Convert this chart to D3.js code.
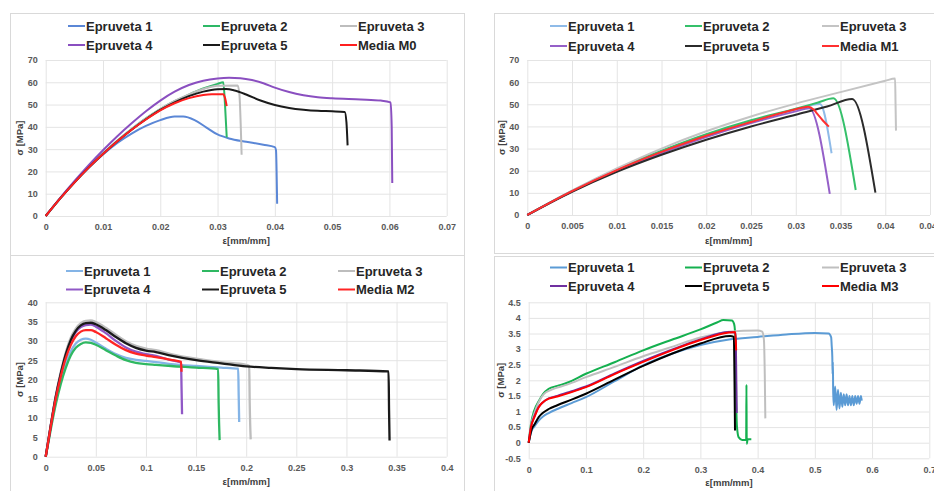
<!DOCTYPE html>
<html>
<head>
<meta charset="utf-8">
<script src="https://cdn.jsdelivr.net/npm/d3@7"></script>
<style>
  body { margin: 0; background: #fff; }
  svg { display: block; font-family: "Liberation Sans", Arial, sans-serif; }
</style>
</head>
<body>
<div id="chart"></div>
<script>
// ---------- M0 ----------
const m0Names = ["Epruveta 1", "Epruveta 2", "Epruveta 3", "Epruveta 4", "Epruveta 5", "Media M0"];
const m0E1 = [[0,0],[0.0025,7.8],[0.005,15],[0.0075,21.6],[0.01,27.6],[0.0125,32.8],[0.015,37],[0.0175,40.4],[0.02,43],[0.0225,44.6],[0.024,44.6],[0.026,43],[0.028,39.8],[0.03,36.6],[0.032,34.8],[0.035,33.3],[0.038,32],[0.04,30.9],[0.0402,29.5],[0.0404,5.5]];
const m0E2 = [[0,0],[0.0025,7.8],[0.005,15.1],[0.0075,21.8],[0.01,28],[0.0125,33.8],[0.015,39],[0.0175,43.8],[0.02,48],[0.0225,51.5],[0.025,54.5],[0.0275,57.2],[0.03,59.3],[0.031,60],[0.0313,50],[0.0316,35.3]];
const m0E3 = [[0,0],[0.0025,7.8],[0.005,15.1],[0.0075,21.8],[0.01,28],[0.0125,33.8],[0.015,39],[0.0175,43.8],[0.02,48],[0.0225,51.6],[0.025,54.6],[0.0275,57],[0.03,58.5],[0.0335,58.6],[0.0338,55],[0.0342,27.5]];
const m0E4 = [[0,0],[0.0025,8],[0.005,15.6],[0.0075,22.8],[0.01,29.5],[0.0125,35.8],[0.015,41.6],[0.0175,47],[0.02,51.8],[0.0225,55.8],[0.025,58.8],[0.0275,60.7],[0.03,61.7],[0.032,62],[0.034,61.8],[0.036,61],[0.038,59.6],[0.04,57.6],[0.0425,55.6],[0.045,54.2],[0.0475,53.3],[0.05,52.8],[0.055,52.3],[0.0585,51.8],[0.0602,51],[0.0604,40],[0.0605,14.8]];
const m0E5 = [[0,0],[0.0025,7.8],[0.005,15],[0.0075,21.7],[0.01,27.8],[0.0125,33.5],[0.015,38.7],[0.0175,43.4],[0.02,47.6],[0.0225,51],[0.025,53.8],[0.0275,55.8],[0.03,56.9],[0.0315,57],[0.033,56.3],[0.035,54.5],[0.0375,51.8],[0.04,49.8],[0.0425,48.5],[0.045,47.7],[0.0475,47.2],[0.05,47],[0.0522,46.7],[0.0525,42],[0.0527,31.7]];
const m0Mean = [[0,0],[0.0025,7.8],[0.005,15],[0.0075,21.7],[0.01,27.8],[0.0125,33.5],[0.015,38.7],[0.0175,43.3],[0.02,47.4],[0.0225,50.6],[0.025,52.9],[0.0275,54.3],[0.029,54.6],[0.031,54.6],[0.0313,53],[0.0316,49.3]];
const m0XTicks = [0, 0.01, 0.02, 0.03, 0.04, 0.05, 0.06, 0.07];
const m0XLabels = ["0", "0.01", "0.02", "0.03", "0.04", "0.05", "0.06", "0.07"];
const m0YTicks = [0, 10, 20, 30, 40, 50, 60, 70];
const m0YLabels = ["0", "10", "20", "30", "40", "50", "60", "70"];

// ---------- M1 ----------
const m1Names = ["Epruveta 1", "Epruveta 2", "Epruveta 3", "Epruveta 4", "Epruveta 5", "Media M1"];
const m1E1 = [[0,0],[0.005,10.9],[0.01,20.5],[0.015,28.8],[0.02,36],[0.025,42.3],[0.03,47.6],[0.0327,50.1],[0.034,27.9]];
const m1E2 = [[0,0],[0.005,10.9],[0.01,20.6],[0.015,29],[0.02,36.5],[0.025,42.8],[0.03,48],[0.0325,50.8],[0.0342,52.7],[0.0367,11.3]];
const m1E3 = [[0,0],[0.005,11],[0.01,21],[0.015,30],[0.02,37.8],[0.025,44.5],[0.03,50.3],[0.035,55.5],[0.04,60.6],[0.0411,61.7],[0.04115,50],[0.0412,38.1]];
const m1E4 = [[0,0],[0.005,10.7],[0.01,20],[0.015,28],[0.02,35.2],[0.025,41.5],[0.03,46.8],[0.0315,48.2],[0.0338,9.5]];
const m1E5 = [[0,0],[0.005,10.5],[0.01,19.5],[0.015,27.2],[0.02,34],[0.025,40],[0.03,45.3],[0.0335,49],[0.0363,52.4],[0.0389,10.1]];
const m1Mean = [[0,0],[0.005,10.8],[0.01,20.3],[0.015,28.5],[0.02,35.8],[0.025,42],[0.03,47.8],[0.0314,48.9],[0.032,47.6],[0.0325,45.2],[0.033,42.8],[0.0337,39.9]];
const m1XTicks = [0, 0.005, 0.01, 0.015, 0.02, 0.025, 0.03, 0.035, 0.04, 0.045];
const m1XLabels = ["0", "0.005", "0.01", "0.015", "0.02", "0.025", "0.03", "0.035", "0.04", "0.045"];
const m1YTicks = [0, 10, 20, 30, 40, 50, 60, 70];
const m1YLabels = ["0", "10", "20", "30", "40", "50", "60", "70"];

// ---------- M2 ----------
const m2Names = ["Epruveta 1", "Epruveta 2", "Epruveta 3", "Epruveta 4", "Epruveta 5", "Media M2"];
const m2E1 = [[0,0],[0.005,7.5],[0.01,14.3],[0.015,19.8],[0.02,24.2],[0.025,27.3],[0.03,29.3],[0.035,30.3],[0.04,30.6],[0.045,30.3],[0.05,29.6],[0.06,28],[0.07,26.6],[0.08,25.6],[0.09,25.1],[0.1,24.8],[0.11,24.5],[0.125,24],[0.15,23.5],[0.175,23.1],[0.192,22.8],[0.1925,16],[0.193,9]];
const m2E2 = [[0,0],[0.005,7],[0.01,13.5],[0.015,18.8],[0.02,23],[0.025,26.2],[0.03,28.2],[0.035,29.2],[0.04,29.6],[0.045,29.5],[0.05,29],[0.06,27.6],[0.07,26.2],[0.08,25],[0.09,24.3],[0.1,24],[0.11,23.8],[0.125,23.5],[0.15,23.1],[0.172,22.7],[0.1725,14],[0.1735,4.3]];
const m2E3 = [[0,0],[0.005,8.2],[0.01,15.8],[0.015,22],[0.02,27],[0.025,30.8],[0.03,33.2],[0.035,34.6],[0.04,35.2],[0.045,35.3],[0.05,34.9],[0.06,33.4],[0.07,31.6],[0.08,29.9],[0.09,28.7],[0.1,28],[0.11,27.6],[0.125,26.6],[0.15,25.4],[0.175,24.5],[0.2,23.8],[0.203,23.5],[0.2035,14],[0.2045,4.5]];
const m2E4 = [[0,0],[0.005,8],[0.01,15.4],[0.015,21.3],[0.02,26.2],[0.025,29.9],[0.03,32.3],[0.035,33.6],[0.04,34.1],[0.045,34.2],[0.05,33.7],[0.06,32],[0.07,30],[0.08,28.3],[0.09,27.2],[0.1,26.6],[0.11,26.1],[0.125,25],[0.135,24.4],[0.1355,18],[0.136,11]];
const m2E5 = [[0,0],[0.005,8],[0.01,15.5],[0.015,21.5],[0.02,26.5],[0.025,30.2],[0.03,32.6],[0.035,34],[0.04,34.6],[0.045,34.7],[0.05,34.3],[0.06,32.8],[0.07,31],[0.08,29.4],[0.09,28.2],[0.1,27.5],[0.11,27.1],[0.125,26.2],[0.15,25],[0.175,24.2],[0.2,23.4],[0.225,23],[0.25,22.7],[0.3,22.4],[0.342,22.1],[0.3425,12],[0.343,4.2]];
const m2Mean = [[0,0],[0.005,7.8],[0.01,15],[0.015,20.8],[0.02,25.5],[0.025,28.9],[0.03,31.2],[0.035,32.4],[0.04,32.8],[0.045,32.8],[0.05,32.3],[0.06,30.7],[0.07,29],[0.08,27.6],[0.09,26.7],[0.1,26.2],[0.11,25.8],[0.125,25.1],[0.135,24.6],[0.1355,22]];
const m2XTicks = [0, 0.05, 0.1, 0.15, 0.2, 0.25, 0.3, 0.35, 0.4];
const m2XLabels = ["0", "0.05", "0.1", "0.15", "0.2", "0.25", "0.3", "0.35", "0.4"];
const m2YTicks = [0, 5, 10, 15, 20, 25, 30, 35, 40];
const m2YLabels = ["0", "5", "10", "15", "20", "25", "30", "35", "40"];

// ---------- M3 ----------
const m3Names = ["Epruveta 1", "Epruveta 2", "Epruveta 3", "Epruveta 4", "Epruveta 5", "Media M3"];
const m3E1 = [[0,0],[0.005,0.38],[0.01,0.52],[0.0175,0.71],[0.025,0.84],[0.035,0.95],[0.05,1.08],[0.075,1.27],[0.1,1.46],[0.15,1.97],[0.2,2.48],[0.25,2.85],[0.3,3.13],[0.35,3.31],[0.4,3.39],[0.45,3.47],[0.5,3.52],[0.524,3.5],[0.5285,3.38],[0.5295,3.1],[0.5305,2.75],[0.531,2.2],[0.5315,2.6],[0.532,1.7],[0.533,1.2],[0.5355,1.8],[0.538,1.05],[0.5405,1.7],[0.543,1.1],[0.5455,1.6],[0.548,1.15],[0.5505,1.55],[0.553,1.2],[0.5555,1.55],[0.558,1.2],[0.5605,1.5],[0.563,1.2],[0.5655,1.5],[0.568,1.2],[0.5705,1.5],[0.573,1.25],[0.5755,1.5],[0.578,1.25],[0.5805,1.5],[0.582,1.35]];
const m3E2 = [[0,0],[0.004,0.6],[0.01,1.05],[0.0175,1.33],[0.025,1.56],[0.035,1.73],[0.05,1.82],[0.067,1.92],[0.1,2.21],[0.15,2.58],[0.2,2.96],[0.25,3.3],[0.3,3.63],[0.33,3.86],[0.34,3.93],[0.355,3.92],[0.359,3.8],[0.3615,3.2],[0.3625,1.5],[0.364,0.5],[0.367,0.17],[0.373,0.09],[0.38,0.09],[0.3805,1.86],[0.381,-0.04],[0.3825,0.1],[0.384,0.11],[0.389,0.11]];
const m3E3 = [[0,0],[0.004,0.55],[0.01,0.95],[0.0175,1.3],[0.026,1.55],[0.04,1.7],[0.067,1.86],[0.1,2.1],[0.15,2.43],[0.2,2.77],[0.25,3.07],[0.3,3.37],[0.35,3.56],[0.4,3.6],[0.408,3.56],[0.411,3.3],[0.4125,2.2],[0.4135,0.78]];
const m3E4 = [[0,0],[0.004,0.5],[0.01,0.85],[0.0175,1.15],[0.025,1.3],[0.035,1.42],[0.05,1.5],[0.075,1.65],[0.1,1.8],[0.15,2.22],[0.2,2.62],[0.25,2.98],[0.3,3.31],[0.35,3.55],[0.3615,3.52],[0.3625,2.5],[0.3635,0.95]];
const m3E5 = [[0,0],[0.005,0.42],[0.01,0.58],[0.0175,0.82],[0.025,0.96],[0.035,1.08],[0.05,1.2],[0.075,1.38],[0.1,1.57],[0.15,2.02],[0.2,2.46],[0.25,2.85],[0.3,3.18],[0.352,3.42],[0.3585,3.39],[0.3595,2.2],[0.3605,0.39]];
const m3Mean = [[0,0],[0.004,0.5],[0.01,0.82],[0.0175,1.14],[0.025,1.3],[0.035,1.41],[0.05,1.48],[0.075,1.62],[0.1,1.78],[0.15,2.2],[0.2,2.59],[0.25,2.96],[0.3,3.29],[0.35,3.53],[0.361,3.55],[0.3625,2.96]];
const m3XTicks = [0, 0.1, 0.2, 0.3, 0.4, 0.5, 0.6, 0.7];
const m3XLabels = ["0", "0.1", "0.2", "0.3", "0.4", "0.5", "0.6", "0.7"];
const m3YTicks = [-0.5, 0, 0.5, 1, 1.5, 2, 2.5, 3, 3.5, 4, 4.5];
const m3YLabels = ["-0.5", "0", "0.5", "1", "1.5", "2", "2.5", "3", "3.5", "4", "4.5"];

const W = 934, H = 491;
const svg = d3.select("#chart").append("svg")
    .attr("width", W)
    .attr("height", H);

function drawPanel(p) {
    const g = svg.append("g");

    // chart frame
    g.append("rect")
        .attr("x", p.box[0] + 0.5).attr("y", p.box[1] + 0.5)
        .attr("width", p.box[2] - p.box[0]).attr("height", p.box[3] - p.box[1])
        .attr("fill", "#fff")
        .attr("stroke", "#d9d9d9");

    const x = d3.scaleLinear().domain(p.xDomain).range([p.left, p.right]);
    const y = d3.scaleLinear().domain(p.yDomain).range([p.bottom, p.top]);

    // axes + gridlines
    const yAxis = g.append("g")
        .attr("transform", `translate(${p.left},0)`)
        .call(d3.axisLeft(y)
            .tickValues(p.yTicks)
            .tickFormat((d, i) => p.yLabels[i])
            .tickSize(-(p.right - p.left))
            .tickPadding(8));
    const xAxis = g.append("g")
        .attr("transform", `translate(0,${p.bottom})`)
        .call(d3.axisBottom(x)
            .tickValues(p.xTicks)
            .tickFormat((d, i) => p.xLabels[i])
            .tickSize(-(p.bottom - p.top))
            .tickPadding(8));
    [xAxis, yAxis].forEach(a => {
        a.select(".domain").remove();
        a.selectAll("line").attr("stroke", "#e4e4e4");
        a.selectAll("text")
            .attr("fill", "#595959")
            .style("font-size", "9px")
            .style("font-weight", "bold");
    });

    // axis titles
    g.append("text")
        .attr("transform", `translate(${p.yTitleX},${(p.top + p.bottom) / 2}) rotate(-90)`)
        .attr("text-anchor", "middle")
        .attr("dy", "0.35em")
        .attr("fill", "#404040")
        .style("font-size", "9.5px")
        .style("font-weight", "bold")
        .text("σ [MPa]");
    g.append("text")
        .attr("x", (p.left + p.right) / 2)
        .attr("y", p.xTitleY)
        .attr("text-anchor", "middle")
        .attr("dy", "0.35em")
        .attr("fill", "#404040")
        .style("font-size", "9.5px")
        .style("font-weight", "bold")
        .text("ε[mm/mm]");

    // curves
    const line = d3.line()
        .x(d => x(d[0]))
        .y(d => y(d[1]))
        .curve(d3.curveMonotoneX);

    g.append("g")
        .selectAll("path")
        .data(p.series)
        .enter().append("path")
        .attr("d", line)
        .attr("fill", "none")
        .attr("stroke", (d, i) => p.colors[i])
        .attr("stroke-width", p.lineWidth)
        .attr("stroke-linejoin", "round");

    // legend, 3 per row
    const leg = g.append("g")
        .selectAll("g")
        .data(p.names)
        .enter().append("g")
        .attr("transform", (d, i) => `translate(${p.legCols[i % 3]},${p.legRows[Math.floor(i / 3)]})`);
    leg.append("line")
        .attr("x1", 0).attr("x2", 17)
        .attr("stroke", (d, i) => p.colors[i])
        .attr("stroke-width", 2);
    leg.append("text")
        .attr("x", 18)
        .attr("dy", "0.36em")
        .attr("fill", "#262626")
        .style("font-size", "13px")
        .style("font-weight", "bold")
        .text(d => d);
}

drawPanel({
    box: [10, 13, 464, 255],
    left: 45.7, right: 446.7, top: 60, bottom: 216,
    xDomain: [0, 0.07], yDomain: [0, 70],
    xTicks: m0XTicks, xLabels: m0XLabels, yTicks: m0YTicks, yLabels: m0YLabels,
    yTitleX: 20, xTitleY: 241,
    series: [m0E1, m0E2, m0E3, m0E4, m0E5, m0Mean],
    names: m0Names,
    colors: ["#5b87d6", "#2db866", "#bdbdbd", "#8a4fc0", "#1a1a1a", "#ff1f1f"],
    lineWidth: 2,
    legCols: [68, 203, 340], legRows: [26, 45]
});

drawPanel({
    box: [494, 13, 960, 253],
    left: 527.3, right: 930, top: 60, bottom: 215,
    xDomain: [0, 0.045], yDomain: [0, 70],
    xTicks: m1XTicks, xLabels: m1XLabels, yTicks: m1YTicks, yLabels: m1YLabels,
    yTitleX: 502, xTitleY: 241,
    series: [m1E1, m1E2, m1E3, m1E4, m1E5, m1Mean],
    names: m1Names,
    colors: ["#8fbbe8", "#35c06a", "#c4c4c4", "#9560c8", "#2b2b2b", "#ff3030"],
    lineWidth: 2,
    legCols: [550, 685, 822], legRows: [26, 46]
});

drawPanel({
    box: [10, 255, 464, 500],
    left: 45.7, right: 446.7, top: 302.3, bottom: 456.7,
    xDomain: [0, 0.4], yDomain: [0, 40],
    xTicks: m2XTicks, xLabels: m2XLabels, yTicks: m2YTicks, yLabels: m2YLabels,
    yTitleX: 20, xTitleY: 482,
    series: [m2E1, m2E2, m2E3, m2E4, m2E5, m2Mean],
    names: m2Names,
    colors: ["#84b4e6", "#2fb862", "#bdbdbd", "#9058c6", "#1a1a1a", "#ff2424"],
    lineWidth: 2.3,
    legCols: [66, 202, 338], legRows: [271, 289.5]
});

drawPanel({
    box: [494, 256, 960, 500],
    left: 528.7, right: 929.3, top: 302.3, bottom: 458.3,
    xDomain: [0, 0.7], yDomain: [-0.5, 4.5],
    xTicks: m3XTicks, xLabels: m3XLabels, yTicks: m3YTicks, yLabels: m3YLabels,
    yTitleX: 501, xTitleY: 483,
    series: [m3E1, m3E2, m3E3, m3E4, m3E5, m3Mean],
    names: m3Names,
    colors: ["#5b9bd5", "#14b04f", "#bfbfbf", "#7030a0", "#000000", "#ff0000"],
    lineWidth: 2,
    legCols: [550, 685, 822], legRows: [267.5, 286]
});
</script>
</body>
</html>
